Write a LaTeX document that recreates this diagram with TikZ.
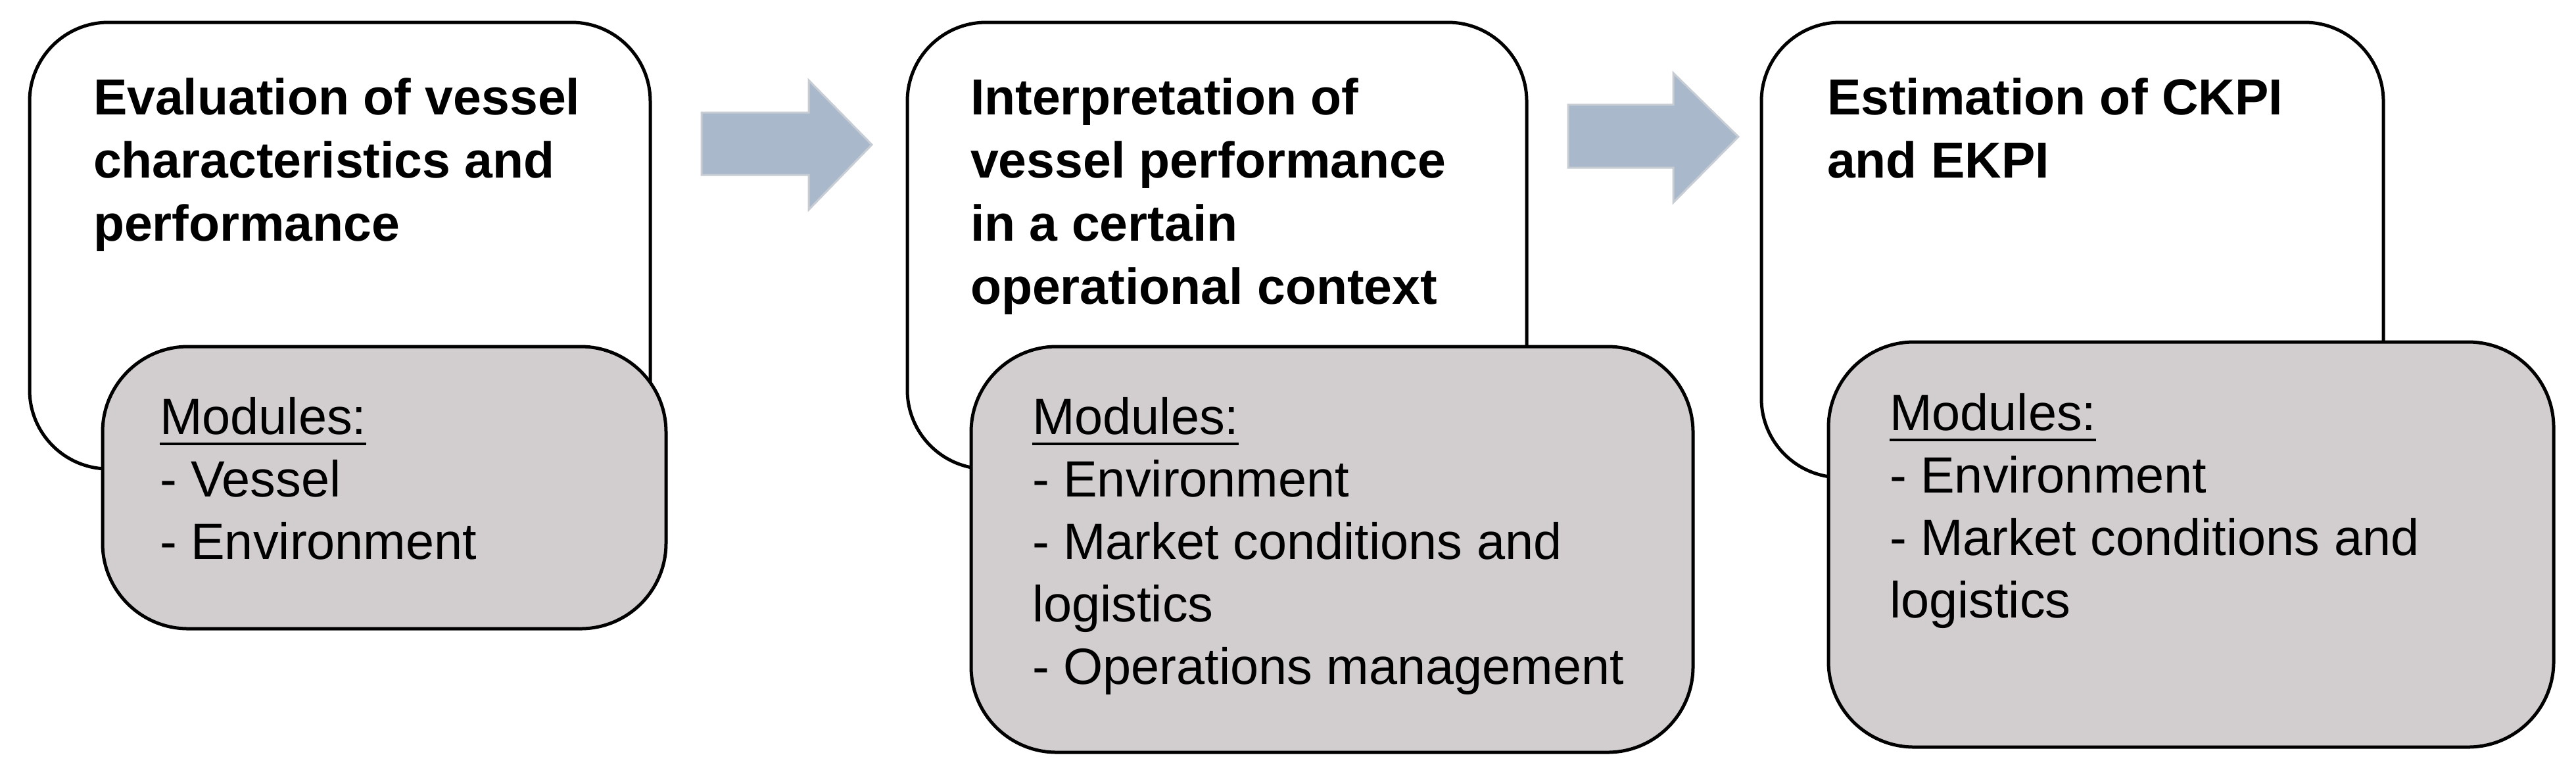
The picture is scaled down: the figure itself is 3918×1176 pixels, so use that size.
\documentclass[tikz,border=0pt]{standalone}
\usepackage{fontspec}
\setmainfont{Liberation Sans}
\definecolor{boxgray}{RGB}{210,206,208}
\definecolor{arrowblue}{RGB}{169,184,202}
\definecolor{arrowedge}{RGB}{200,205,212}
\begin{document}
\begin{tikzpicture}[x=0.1pt,y=-0.1pt,
  wbox/.style={draw=black,line width=0.5pt,fill=white,rounded corners=12pt},
  gbox/.style={draw=black,line width=0.5pt,fill=boxgray,rounded corners=13pt},
  title/.style={anchor=north west,inner sep=0pt,align=left,font=\fontsize{7.7pt}{9.6pt}\selectfont\bfseries},
  body/.style={anchor=north west,inner sep=0pt,align=left,font=\fontsize{7.75pt}{9.5pt}\selectfont},
  flow/.style={fill=arrowblue,draw=arrowedge,line width=0.3pt}]
\useasboundingbox (0,0) rectangle (3918,1176);
% box 1
\draw[wbox] (45,34) rectangle (989,713);
\node[title] (t1) at (140,117) {Evaluation of vessel\\characteristics and\\performance};
\draw[gbox] (156,527) rectangle (1013,956);
\node[body] (m1) at (241,602) {\underline{Modules:}\\- Vessel\\- Environment};
% box 2
\draw[wbox] (1380,34) rectangle (2322,713);
\node[title] (t2) at (1474,117) {Interpretation of\\vessel performance\\in a certain\\operational context};
\draw[gbox] (1477,527) rectangle (2575,1144);
\node[body] (m2) at (1568,602) {\underline{Modules:}\\- Environment\\- Market conditions and\\logistics\\- Operations management};
% box 3
\draw[wbox] (2679,34) rectangle (3625,726);
\node[title] (t3) at (2777,117) {Estimation of CKPI\\and EKPI};
\draw[gbox] (2781,520) rectangle (3884,1136);
\node[body] (m3) at (2872,596) {\underline{Modules:}\\- Environment\\- Market conditions and\\logistics};
% arrows
\draw[flow] (1067,171) -- (1230,171) -- (1230,122) -- (1326,220) -- (1230,319) -- (1230,266) -- (1067,266) -- cycle;
\draw[flow] (2385,159) -- (2545,159) -- (2545,111) -- (2644,208) -- (2545,308) -- (2545,255) -- (2385,255) -- cycle;
\end{tikzpicture}
\end{document}
